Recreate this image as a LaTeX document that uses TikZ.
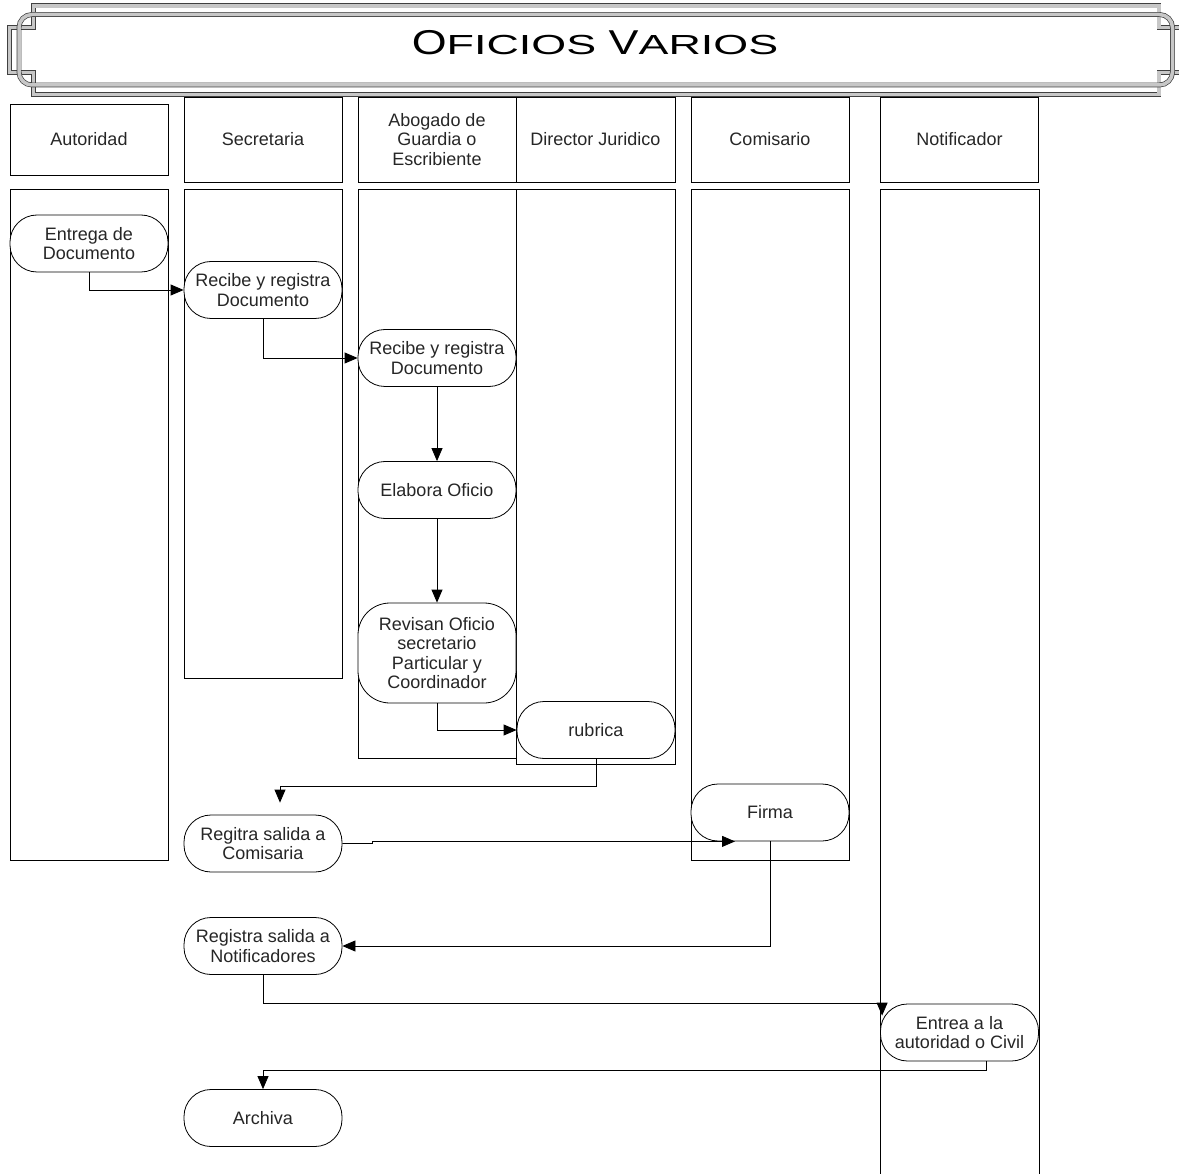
\documentclass[tikz,border=0pt]{standalone}
\usepackage{fontspec}
\usepackage{graphicx}
\setmainfont{Liberation Sans}
\newfontfamily\titlefont[FakeStretch=1.3]{Liberation Sans}
\usetikzlibrary{arrows.meta}

% small capitals made from squashed capitals
\newcommand{\squash}[1]{\scalebox{1}[0.8]{#1}}

\begin{document}
\begin{tikzpicture}[x=1pt,y=-1pt,
  every node/.style={font=\fontsize{18}{19.5}\selectfont, text=black!85},
  lanehead/.style={draw, line width=0.8pt, minimum width=158pt, minimum height=85pt, inner sep=0pt, align=center},
  task/.style={draw, fill=white, line width=0.8pt, rounded corners=27pt, minimum width=158pt, minimum height=57pt, inner sep=0pt, align=center},
  lanebody/.style={draw, line width=0.8pt},
  flow/.style={draw, line width=0.8pt, -{Triangle[length=13pt,width=11pt]}},
  band/.style={draw=black!75, line width=0.7pt, double=black!22, double distance=3.5pt},
]
\useasboundingbox (0,0) rectangle (1179,1174);
\clip (0,0) rectangle (1179,1174);

% title banner
\draw[band] (33.5,5.8) -- (1159,5.8) -- (1159,27.5) -- (1183,27.5) -- (1183,72.5)
  -- (1159,72.5) -- (1159,94.5) -- (33.5,94.5) -- (33.5,72.5) -- (9.5,72.5)
  -- (9.5,27.5) -- (33.5,27.5) -- cycle;
\draw[band, rounded corners=13pt] (19,14.5) rectangle (1172.5,85);
\node[font=\titlefont\fontsize{34.5}{34.5}\selectfont, text=black, anchor=base, inner sep=0pt] (title) at (595,55)
  {O\squash{FICIOS} V\squash{ARIOS}};

% lane headers
\node[lanehead, minimum height=71pt] (hAut) at (89,139.5) {Autoridad};
\node[lanehead] (hSec) at (263,139.5) {Secretaria};
\node[lanehead] (hAbo) at (437,139.5) {Abogado de\\Guardia o\\Escribiente};
\node[lanehead, minimum width=159pt] (hDir) at (595.5,139.5) {Director Juridico};
\node[lanehead] (hCom) at (770,139.5) {Comisario};
\node[lanehead] (hNot) at (959.5,139.5) {Notificador};

% lane bodies
\draw[lanebody] (10,189) rectangle (168,860);
\draw[lanebody] (184,189) rectangle (342,678);
\draw[lanebody] (358,189) rectangle (516,758);
\draw[lanebody] (516,189) rectangle (675,764);
\draw[lanebody] (691,189) rectangle (849,860);
\draw[lanebody] (880,1180) -- (880,189) -- (1039,189) -- (1039,1180);

% activities
\node[task] (entrega) at (89,243.5) {Entrega de\\Documento};
\node[task] (recibeA) at (263,290) {Recibe y registra\\Documento};
\node[task] (recibeB) at (437,358) {Recibe y registra\\Documento};
\node[task] (elabora) at (437,490) {Elabora Oficio};
\node[task, minimum height=100pt, rounded corners=32pt] (revisan) at (437,653)
  {Revisan Oficio\\secretario\\Particular y\\Coordinador};
\node[task] (rubrica) at (596,730) {rubrica};
\node[task] (regitra) at (263,843.5) {Regitra salida a\\Comisaria};
\node[task] (firma) at (770,812.5) {Firma};
\node[task] (registra) at (263,946) {Registra salida a\\Notificadores};
\node[task] (entrea) at (959.5,1032.5) {Entrea a la\\autoridad o Civil};
\node[task] (archiva) at (263,1118) {Archiva};

% flow
\draw[flow] (entrega.south) |- (recibeA.west);
\draw[flow] (recibeA.south) |- (recibeB.west);
\draw[flow] (recibeB.south) -- (elabora.north);
\draw[flow] (elabora.south) -- (revisan.north);
\draw[flow] (revisan.south) |- (rubrica.west);
\draw[flow, shorten >=12pt] (rubrica.south) -- ++(0,27) -| ([xshift=17pt]regitra.north);
\draw[flow] (regitra.east) -- ++(30,0) -- ++(0,-2) -- ([xshift=-35pt]firma.south);
\draw[flow] (firma.south) |- (registra.east);
\draw[flow] (registra.south) -- ++(0,28) -| ([xshift=2pt,yshift=-12pt]entrea.north west);
\draw[flow] ([xshift=27pt]entrea.south) -- ++(0,9) -| (archiva.north);
\end{tikzpicture}
\end{document}
